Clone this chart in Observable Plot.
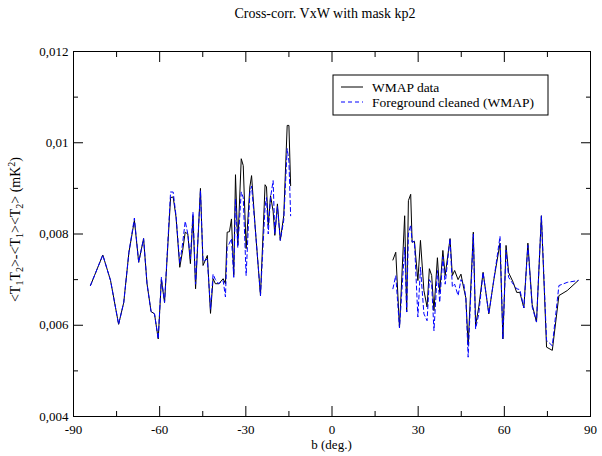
<!DOCTYPE html>
<html><head><meta charset="utf-8">
<script src="https://cdn.jsdelivr.net/npm/d3@7"></script>
<script src="https://cdn.jsdelivr.net/npm/@observablehq/plot@0.6"></script>
<style>
body{margin:0;background:#fff;}
#title{font-family:"Liberation Serif","Times New Roman",serif;font-size:14px;width:554px;padding-left:48px;height:28px;line-height:28px;text-align:center;color:#000;}
svg text{font-family:"Liberation Serif","Times New Roman",serif;}
</style></head>
<body>
<div id="title">Cross-corr. VxW with mask kp2</div>
<div id="chart"></div>
<script>
const bLeft = [-84.1,-79.8,-77.1,-74.3,-72.5,-70.7,-68.8,-67.3,-65.6,-64.4,-63.0,-61.8,-60.5,-59.4,-58.3,-56.2,-55.3,-54.3,-53.0,-52.0,-51.1,-50.2,-49.3,-48.4,-47.5,-45.8,-44.9,-43.4,-42.3,-41.4,-40.6,-39.4,-37.9,-37.1,-36.5,-35.7,-35.0,-34.2,-33.6,-32.8,-31.6,-30.9,-29.9,-28.6,-28.0,-26.7,-24.9,-23.3,-22.8,-22.2,-21.4,-20.5,-19.9,-19.0,-18.0,-16.8,-15.6,-15.0,-14.4];
const wmapLeft = [0.00687,0.00754,0.00698,0.00602,0.00650,0.00760,0.00830,0.00738,0.00790,0.00691,0.00630,0.00625,0.00570,0.00700,0.00650,0.00880,0.00881,0.00837,0.00727,0.00764,0.00804,0.00800,0.00735,0.00840,0.00680,0.00900,0.00731,0.00753,0.00626,0.00702,0.00691,0.00691,0.00702,0.00691,0.00804,0.00805,0.00833,0.00709,0.00930,0.00775,0.00965,0.00950,0.00768,0.00903,0.00928,0.00811,0.00665,0.00908,0.00903,0.00819,0.00884,0.00850,0.00797,0.00866,0.00786,0.00840,0.01038,0.01038,0.00906];
const cleanLeft = [0.00687,0.00754,0.00698,0.00602,0.00650,0.00760,0.00835,0.00738,0.00790,0.00691,0.00630,0.00625,0.00570,0.00705,0.00650,0.00892,0.00892,0.00840,0.00735,0.00780,0.00828,0.00800,0.00745,0.00848,0.00690,0.00895,0.00740,0.00745,0.00635,0.00712,0.00700,0.00691,0.00698,0.00662,0.00770,0.00780,0.00790,0.00705,0.00877,0.00770,0.00892,0.00880,0.00709,0.00890,0.00905,0.00811,0.00665,0.00860,0.00880,0.00800,0.00880,0.00917,0.00800,0.00860,0.00786,0.00830,0.00987,0.00960,0.00840];
const bRight = [21.2,22.2,23.5,25.3,26.0,26.6,27.4,27.9,28.7,29.9,30.8,32.0,33.1,33.9,34.7,35.5,36.7,37.5,38.6,39.4,41.1,41.9,42.7,43.9,44.9,45.9,46.6,47.4,49.2,50.0,51.1,52.6,54.6,56.3,58.5,59.5,60.6,61.5,63.1,64.3,65.4,66.8,68.2,69.7,71.2,72.9,74.7,76.7,79.0,81.9,85.7];
const wmapRight = [0.00743,0.00760,0.00594,0.00840,0.00629,0.00873,0.00887,0.00782,0.00784,0.00698,0.00786,0.00676,0.00640,0.00724,0.00709,0.00632,0.00748,0.00672,0.00764,0.00709,0.00790,0.00709,0.00720,0.00700,0.00712,0.00680,0.00660,0.00556,0.00804,0.00600,0.00640,0.00716,0.00625,0.00698,0.00780,0.00570,0.00775,0.00715,0.00694,0.00672,0.00672,0.00638,0.00780,0.00645,0.00607,0.00840,0.00552,0.00545,0.00665,0.00676,0.00698];
const cleanRight = [0.00680,0.00709,0.00594,0.00771,0.00629,0.00800,0.00820,0.00782,0.00784,0.00618,0.00727,0.00625,0.00610,0.00700,0.00690,0.00588,0.00720,0.00650,0.00750,0.00690,0.00790,0.00684,0.00690,0.00665,0.00700,0.00690,0.00660,0.00530,0.00800,0.00592,0.00625,0.00716,0.00625,0.00698,0.00795,0.00570,0.00765,0.00705,0.00690,0.00680,0.00678,0.00638,0.00775,0.00640,0.00607,0.00840,0.00567,0.00555,0.00687,0.00694,0.00698];

const seriesNames = ["WMAP data", "Foreground cleaned (WMAP)"];
const xTicks = [-90, -60, -30, 0, 30, 60, 90];
const xTickLabels = ["-90", "-60", "-30", "0", "30", "60", "90"];
const xMinor = [-75, -45, -15, 15, 45, 75];
const yTicks = [0.004, 0.006, 0.008, 0.01, 0.012];
const yTickLabels = ["0,004", "0,006", "0,008", "0,01", "0,012"];
const yMinor = [0.005, 0.007, 0.009, 0.011];
const xTitle = "b (deg.)";

const rows = [];
bLeft.forEach((b, i) => {
  rows.push({b, v: wmapLeft[i], s: seriesNames[0], seg: "L"});
  rows.push({b, v: cleanLeft[i], s: seriesNames[1], seg: "L"});
});
bRight.forEach((b, i) => {
  rows.push({b, v: wmapRight[i], s: seriesNames[0], seg: "R"});
  rows.push({b, v: cleanRight[i], s: seriesNames[1], seg: "R"});
});

const FONT = '"Liberation Serif","Times New Roman",serif';
const W = 602, H = 428, mL = 73, mR = 12, mT = 23, mB = 40;
const blank = () => "";
const plot = Plot.plot({
  width: W, height: H,
  marginLeft: mL, marginRight: mR, marginTop: mT, marginBottom: mB,
  style: {fontFamily: FONT, fontSize: "13px", background: "white", color: "black"},
  x: {domain: [-90, 90], label: null},
  y: {domain: [0.004, 0.012], label: null},
  marks: [
    Plot.line(rows.filter(d => d.s === seriesNames[0]), {x: "b", y: "v", z: "seg", stroke: "black", strokeWidth: 1}),
    Plot.line(rows.filter(d => d.s === seriesNames[1]), {x: "b", y: "v", z: "seg", stroke: "#0000ff", strokeWidth: 1, strokeDasharray: "4,3"}),
    Plot.axisX(xTicks, {anchor: "bottom", tickSize: -10, tickFormat: blank, label: null}),
    Plot.axisX(xTicks, {anchor: "top", tickSize: -10, tickFormat: blank, label: null}),
    Plot.axisX(xMinor, {anchor: "bottom", tickSize: -5, tickFormat: blank, label: null}),
    Plot.axisX(xMinor, {anchor: "top", tickSize: -5, tickFormat: blank, label: null}),
    Plot.axisY(yTicks, {anchor: "left", tickSize: -10, tickFormat: blank, label: null}),
    Plot.axisY(yTicks, {anchor: "right", tickSize: -10, tickFormat: blank, label: null}),
    Plot.axisY(yMinor, {anchor: "left", tickSize: -5, tickFormat: blank, label: null}),
    Plot.axisY(yMinor, {anchor: "right", tickSize: -5, tickFormat: blank, label: null}),
    Plot.axisX(xTicks, {anchor: "bottom", tickSize: 0, tickPadding: 8, tickFormat: d => xTickLabels[xTicks.indexOf(d)], label: null, fontSize: 13}),
    Plot.axisY(yTicks, {anchor: "left", tickSize: 0, tickPadding: 5, tickFormat: d => yTickLabels[yTicks.indexOf(d)], label: null, fontSize: 13}),
    Plot.frame({stroke: "black", strokeWidth: 1})
  ]
});
document.getElementById("chart").appendChild(plot);

const svg = d3.select(plot);
svg.append("text").attr("x", (mL + W - mR) / 2).attr("y", H - 7)
  .attr("text-anchor", "middle").attr("font-size", 13).attr("fill", "black").text(xTitle);
const yt = svg.append("text").attr("transform", `translate(20,${mT + (H - mT - mB) / 2 - 4}) rotate(-90)`)
  .attr("text-anchor", "middle").attr("font-size", 14).attr("fill", "black");
const parts = [["<T",0],["1",1],["T",0],["2",1],[">-<T",0],["1",1],["><T",0],["2",1],["> (mK",0],["2",2],[")",0]];
parts.forEach(([t, k]) => {
  const ts = yt.append("tspan").text(t);
  if (k === 1) ts.attr("font-size", 10).attr("baseline-shift", "-3");
  if (k === 2) ts.attr("font-size", 10).attr("baseline-shift", "5");
});
const lg = svg.append("g");
lg.append("rect").attr("x", 333).attr("y", 47).attr("width", 215).attr("height", 40)
  .attr("fill", "white").attr("stroke", "black").attr("stroke-width", 1);
const ly = [59, 74];
const lstroke = ["black", "#0000ff"];
const ldash = [null, "4,3"];
seriesNames.forEach((name, i) => {
  lg.append("line").attr("x1", 341).attr("x2", 363).attr("y1", ly[i]).attr("y2", ly[i])
    .attr("stroke", lstroke[i]).attr("stroke-width", 1).attr("stroke-dasharray", ldash[i]);
  lg.append("text").attr("x", 372).attr("y", ly[i] + 4.5).attr("text-anchor", "start")
    .attr("font-size", 13.5).attr("fill", "black").text(name);
});
</script>
</body></html>
